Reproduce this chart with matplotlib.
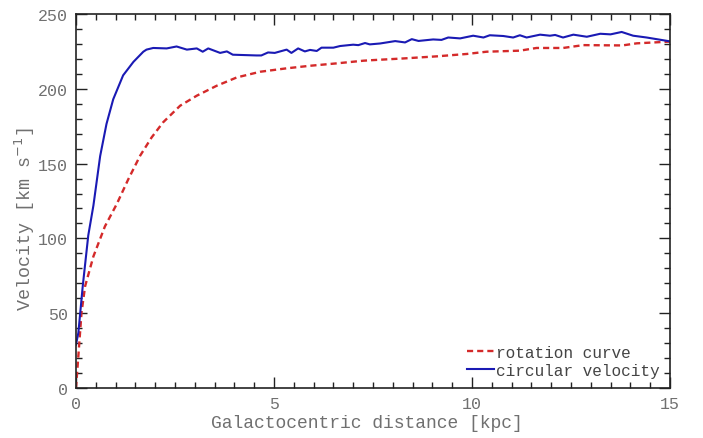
import matplotlib
matplotlib.use("Agg")
import matplotlib.pyplot as plt
from matplotlib.ticker import MultipleLocator

# circular velocity (blue solid)
circ_r = [0.0, 0.06, 0.17, 0.31, 0.44, 0.61, 0.77, 0.94, 1.19, 1.45, 1.70, 1.78, 1.95,
          2.29, 2.54, 2.80, 3.05, 3.20, 3.34, 3.64, 3.81, 3.96, 4.56, 4.68, 4.85, 5.02,
          5.32, 5.44, 5.61, 5.78, 5.91, 6.08, 6.20, 6.50, 6.67, 7.00, 7.13, 7.30, 7.42,
          7.68, 8.06, 8.31, 8.48, 8.65, 9.02, 9.23, 9.40, 9.70, 10.03, 10.29, 10.45,
          10.79, 11.04, 11.21, 11.38, 11.72, 11.97, 12.10, 12.30, 12.56, 12.90, 13.24,
          13.50, 13.78, 14.07, 14.41, 14.96, 15.0]
circ_v = [29, 37, 68, 102, 122, 155, 176.5, 193, 209, 218, 224.8, 226.2, 227.3,
          227, 228.3, 226.2, 227, 224.8, 227, 224, 225, 222.8, 222.3, 222.3, 224.3, 224,
          226.2, 224, 227, 225, 226, 225.3, 227.5, 227.5, 228.6, 229.5, 229.2, 230.6, 229.7,
          230.3, 231.9, 231, 233.2, 232, 233, 232.7, 234.3, 233.7, 235.5, 234.3, 235.8,
          235.3, 234.3, 235.8, 234.3, 236.2, 235.5, 236, 234.3, 236.2, 234.8, 236.8,
          236.4, 238, 235.5, 234.3, 231.9, 231.6]

# rotation curve (red dashed)
rot_r = [0.0, 0.06, 0.14, 0.23, 0.44, 0.73, 1.03, 1.32, 1.62, 1.91, 2.20, 2.63, 3.05,
         3.55, 4.06, 4.65, 5.32, 5.91, 6.58, 7.26, 7.51, 8.27, 9.11, 9.87, 10.37, 11.21,
         11.63, 12.30, 12.81, 13.80, 14.16, 14.96, 15.0]
rot_v = [0, 21.6, 50.6, 68, 88, 108, 123, 139.5, 155.3, 167.5, 177.6, 188.7, 195.4,
         202, 207.6, 211.4, 213.7, 215.4, 217, 218.8, 219.2, 220.3, 221.7, 223.3, 224.8,
         225.5, 227.3, 227.3, 229.2, 229, 230.4, 231.5, 231.5]

x_ticks = [0, 5, 10, 15]
y_ticks = [0, 50, 100, 150, 200, 250]

plt.rcParams['font.family'] = ['Liberation Mono', 'DejaVu Sans Mono']
text_col = '#707070'

fig = plt.figure(figsize=(7.03, 4.39), dpi=100)
ax = fig.add_axes([0.1081, 0.1139, 0.8449, 0.8519])

ax.plot(rot_r, rot_v, color='#d42a2a', lw=1.7, dashes=(2.6, 1.7), label='rotation curve')
ax.plot(circ_r, circ_v, color='#1a1ab4', lw=1.5, label='circular velocity')

ax.set_xlim(0, 15)
ax.set_ylim(0, 250)
ax.set_xticks(x_ticks)
ax.set_yticks(y_ticks)
ax.xaxis.set_minor_locator(MultipleLocator(0.5))
ax.yaxis.set_minor_locator(MultipleLocator(10))
ax.tick_params(which='both', direction='in', top=True, right=True, colors='#222222',
               labelcolor=text_col, labelsize=12, width=1.0)
ax.tick_params(which='major', length=8, pad=6)
ax.tick_params(which='minor', length=4.5)
for s in ax.spines.values():
    s.set_color('#222222')
    s.set_linewidth(1.2)

ax.set_xlabel('Galactocentric distance [kpc]', color=text_col, fontsize=13)
ax.set_ylabel(r'Velocity [km s$^{-1}$]', color=text_col, fontsize=13.2)
ax.xaxis.set_label_coords(0.4895, -0.070)
ax.yaxis.set_label_coords(-0.066, 0.455)

leg = ax.legend(loc='lower right', frameon=False, fontsize=11.6, handlelength=1.7,
                handletextpad=0.1, labelspacing=0.15, borderaxespad=0.25)
for t in leg.get_texts():
    t.set_color('#444444')

fig.savefig('out.png', dpi=100)
